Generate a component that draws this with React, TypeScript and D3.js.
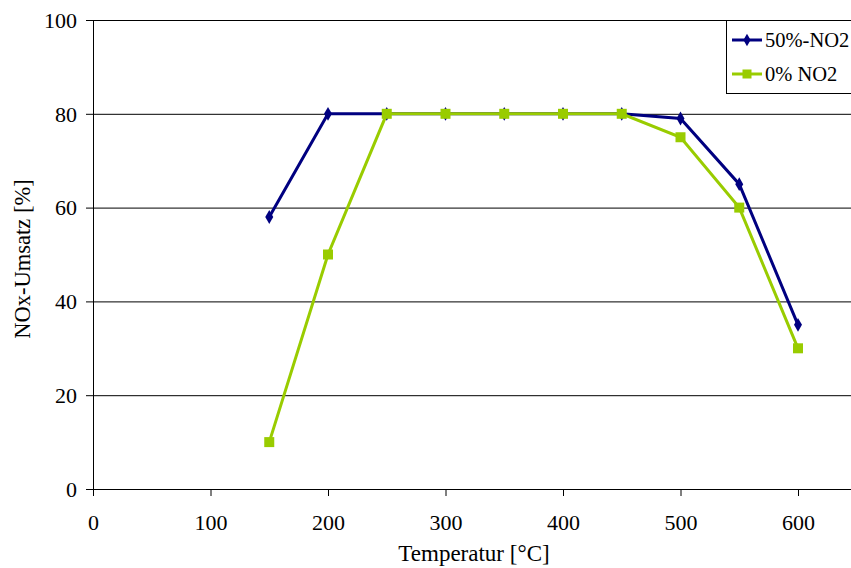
import React from "react";
import * as d3 from "d3";

const temperatures = [150, 200, 250, 300, 350, 400, 450, 500, 550, 600];
const series50 = [58, 80, 80, 80, 80, 80, 80, 79, 65, 35];
const series0 = [10, 50, 80, 80, 80, 80, 80, 75, 60, 30];
const seriesNames = ["50%-NO2", "0% NO2"];
const seriesColors = ["#000080", "#99CC00"];
const xTicks = [0, 100, 200, 300, 400, 500, 600];
const yTicks = [0, 20, 40, 60, 80, 100];

const width = 851;
const height = 568;
const fs = 22;

const x = d3.scaleLinear().domain([0, 600]).range([93, 798]);
const y = d3.scaleLinear().domain([0, 100]).range([489, 20]);

const line = d3.line<[number, number]>()
  .x(d => x(d[0]))
  .y(d => y(d[1]));

const App: React.FC = () => {
  const allSeries = [series50, series0];
  const diamond = d3.symbol(d3.symbolDiamond, 55)() || "";
  const diamondSmall = d3.symbol(d3.symbolDiamond, 45)() || "";

  return (
    <svg
      width={width}
      height={height}
      style={{
        position: "absolute",
        left: 0,
        top: 0,
        background: "#fff",
        fontFamily: "Liberation Serif",
        fontSize: fs,
      }}
    >
      {/* Gitterlinien */}
      {yTicks.filter(t => t > 0).map(t => (
        <line key={t} x1={x(0)} x2={width} y1={y(t) + 0.5} y2={y(t) + 0.5} stroke="#000" />
      ))}

      {/* y-Achse */}
      <line x1={x(0) + 0.5} x2={x(0) + 0.5} y1={y(100)} y2={y(0) + 7} stroke="#000" />
      {yTicks.map(t => (
        <g key={t} transform={`translate(0,${y(t) + 0.5})`}>
          <line x1={x(0) - 7} x2={x(0)} stroke="#000" />
          <text x={x(0) - 16} dy="0.33em" textAnchor="end" fill="#000">
            {t}
          </text>
        </g>
      ))}

      {/* x-Achse */}
      <line x1={x(0)} x2={width} y1={y(0) + 0.5} y2={y(0) + 0.5} stroke="#000" />
      {xTicks.map(t => (
        <g key={t} transform={`translate(${x(t) + 0.5},${y(0)})`}>
          <line y1={0} y2={7} stroke="#000" />
          <text y={41} textAnchor="middle" fill="#000">
            {t}
          </text>
        </g>
      ))}

      {/* Achsentitel */}
      <text x={474} y={561} textAnchor="middle" fontSize={23}>
        Temperatur [°C]
      </text>
      <text transform="translate(30,259) rotate(-90)" textAnchor="middle" fontSize={22.5}>
        NOx-Umsatz [%]
      </text>

      {/* Datenreihen */}
      {allSeries.map((s, i) => {
        const pts: [number, number][] = temperatures.map((t, j) => [t, s[j]]);
        return (
          <g key={i}>
            <path d={line(pts) || ""} fill="none" stroke={seriesColors[i]} strokeWidth={3} />
            {pts.map((p, j) =>
              i === 0 ? (
                <path
                  key={j}
                  d={diamond}
                  transform={`translate(${x(p[0])},${y(p[1])})`}
                  fill={seriesColors[i]}
                />
              ) : (
                <rect
                  key={j}
                  x={x(p[0]) - 5}
                  y={y(p[1]) - 5}
                  width={10}
                  height={10}
                  fill={seriesColors[i]}
                />
              )
            )}
          </g>
        );
      })}

      {/* Legende */}
      <g transform="translate(726,20)">
        <rect x={0.5} y={0.5} width={140} height={73} fill="#fff" stroke="#000" />
        {seriesNames.map((name, i) => (
          <g key={name} transform={`translate(0,${20 + i * 34})`}>
            <line x1={6} x2={36} stroke={seriesColors[i]} strokeWidth={3} />
            {i === 0 ? (
              <path d={diamondSmall} transform="translate(21,0)" fill={seriesColors[i]} />
            ) : (
              <rect x={16.5} y={-4.5} width={9} height={9} fill={seriesColors[i]} />
            )}
            <text x={39} dy="0.33em" fontSize={20.5}>
              {name}
            </text>
          </g>
        ))}
      </g>
    </svg>
  );
};

export default App;
